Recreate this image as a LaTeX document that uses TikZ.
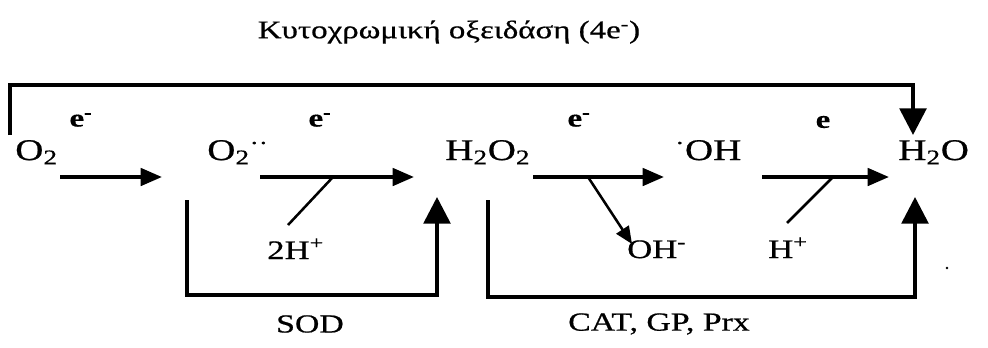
\documentclass[tikz,border=0pt]{standalone}
\usepackage{fontspec}
\setmainfont[FakeStretch=1.3,FakeBold=0.7,BoldFeatures={FakeBold=0.4}]{Liberation Serif}
\usetikzlibrary{arrows.meta}
\begin{document}
\begin{tikzpicture}[x=0.75pt,y=-0.75pt,
  harrow/.style={line width=2.8pt,-{Triangle[length=16pt,width=13pt]}},
  varrow/.style={line width=2.8pt,-{Triangle[length=20pt,width=20pt]}},
  thin line/.style={line width=1.9pt},
  darrow/.style={line width=1.9pt,-{Triangle[length=13pt,width=11pt]}},
  chem/.style={inner sep=0pt,anchor=base west,font=\fontsize{22.5}{24}\selectfont},
  low/.style={inner sep=0pt,anchor=base west,font=\fontsize{20}{22}\selectfont},
  elec/.style={inner sep=0pt,font=\fontsize{19}{21}\selectfont\bfseries},
  enz/.style={inner sep=0pt,font=\fontsize{19.5}{21}\selectfont}]
\useasboundingbox (0,0) rectangle (988,347);
% title
\node[inner sep=0pt,font=\fontsize{19}{21}\selectfont] (title) at (449,32) {Κυτοχρωμική οξειδάση (4e\textsuperscript{-})};
% species
\node[chem] (o2) at (15,160) {O\textsubscript{2}};
\node[chem] (sup) at (207,160) {O\textsubscript{2}\textsuperscript{··}};
\node[chem] (h2o2) at (445,160) {H\textsubscript{2}O\textsubscript{2}};
\node[chem] (oh) at (675,160) {\textsuperscript{·}OH};
\node[chem] (h2o) at (898,160) {H\textsubscript{2}O};
% electrons
\node[elec] (e1) at (81,120) {e\textsuperscript{-}};
\node[elec] (e2) at (320,120) {e\textsuperscript{-}};
\node[elec] (e3) at (579,120) {e\textsuperscript{-}};
\node[elec] (e4) at (823,122) {e};
% side species
\node[low] (h2p) at (267,259) {2H\textsuperscript{+}};
\node[low] (ohm) at (627,258) {OH\textsuperscript{-}};
\node[low] (hp) at (768,258) {H\textsuperscript{+}};
% enzymes
\node[enz] (sod) at (310,324) {SOD};
\node[enz] (cat) at (659,324) {CAT, GP, Prx};
% coordinates
\coordinate (a1s) at (60,177);  \coordinate (a1e) at (162,177);
\coordinate (a2s) at (260,177); \coordinate (a2e) at (414,177);
\coordinate (a3s) at (533,177); \coordinate (a3e) at (664,177);
\coordinate (a4s) at (762,177); \coordinate (a4e) at (889,177);
\coordinate (d2) at (333,177);  \coordinate (d2e) at (288,225);
\coordinate (d3) at (588,177);  \coordinate (d3e) at (632,244);
\coordinate (d4) at (833,177);  \coordinate (d4e) at (787,223);
\coordinate (t0) at (10,135); \coordinate (t1) at (10,85); \coordinate (t2) at (913,85); \coordinate (t3) at (913,135);
\coordinate (s0) at (187,200); \coordinate (s1) at (187,295); \coordinate (s2) at (437,295); \coordinate (s3) at (437,197);
\coordinate (c0) at (488,200); \coordinate (c1) at (488,297); \coordinate (c2) at (915,297); \coordinate (c3) at (915,197);
% arrows
\draw[harrow] (a1s) -- (a1e);
\draw[harrow] (a2s) -- (a2e);
\draw[harrow] (a3s) -- (a3e);
\draw[harrow] (a4s) -- (a4e);
\draw[thin line] (d2) -- (d2e);
\draw[darrow] (d3) -- (d3e);
\draw[thin line] (d4) -- (d4e);
\draw[varrow] (t0) -- (t1) -- (t2) -- (t3);
\draw[varrow] (s0) -- (s1) -- (s2) -- (s3);
\draw[varrow] (c0) -- (c1) -- (c2) -- (c3);
% speck
\fill (947,268) circle (1.3);
\end{tikzpicture}
\end{document}
